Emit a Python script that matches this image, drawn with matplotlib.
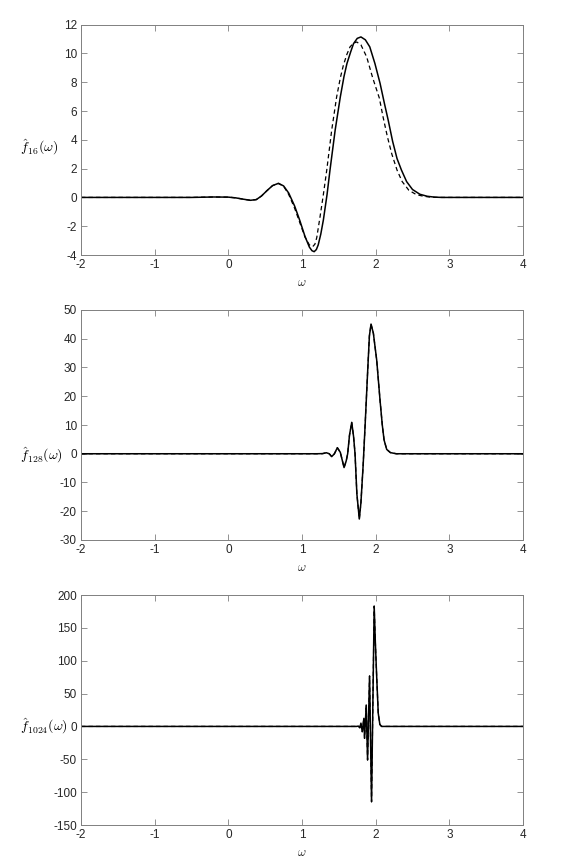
import matplotlib
matplotlib.use("Agg")
import matplotlib.pyplot as plt

plt.rcParams['axes.unicode_minus'] = False
plt.rcParams['mathtext.fontset'] = 'cm'
plt.rcParams['font.family'] = ['Liberation Sans', 'DejaVu Sans']

# ---------------- data ----------------
# Panel 1: f_16
w16_solid = [-2.0, -1.5, -1.0, -0.5, -0.2, 0.0, 0.1, 0.2, 0.3, 0.38, 0.45, 0.52, 0.6, 0.68,
             0.75, 0.82, 0.9, 0.97, 1.04, 1.1, 1.135, 1.165, 1.195, 1.22, 1.255, 1.29, 1.34,
             1.38, 1.45, 1.52, 1.57, 1.61, 1.66, 1.70, 1.75, 1.80, 1.86, 1.92, 1.99, 2.06,
             2.12, 2.17, 2.23, 2.29, 2.35, 2.42, 2.5, 2.6, 2.7, 2.8, 2.9, 3.0, 3.5, 4.0]
f16_solid = [0.0, 0.0, 0.0, 0.0, 0.03, 0.02, -0.03, -0.12, -0.2, -0.15, 0.1, 0.45, 0.82, 0.98,
             0.8, 0.3, -0.6, -1.6, -2.7, -3.45, -3.7, -3.77, -3.62, -3.3, -2.55, -1.57, 0.2,
             1.9, 4.67, 6.98, 8.4, 9.3, 10.1, 10.69, 11.05, 11.15, 10.95, 10.46, 9.3, 7.92,
             6.5, 5.37, 3.9, 2.7, 1.9, 1.1, 0.55, 0.22, 0.08, 0.02, 0.0, 0.0, 0.0, 0.0]

w16_dash = [-2.0, -1.5, -1.0, -0.5, -0.2, 0.0, 0.1, 0.2, 0.3, 0.38, 0.45, 0.52, 0.6, 0.68,
            0.75, 0.82, 0.9, 0.97, 1.04, 1.1, 1.145, 1.175, 1.2, 1.245, 1.29, 1.336, 1.403,
            1.47, 1.52, 1.562, 1.61, 1.652, 1.70, 1.743, 1.80, 1.878, 1.96, 2.05, 2.10,
            2.16, 2.22, 2.29, 2.36, 2.45, 2.55, 2.65, 2.75, 2.85, 3.0, 3.5, 4.0]
f16_dash = [0.0, 0.0, 0.0, 0.0, 0.03, 0.02, -0.03, -0.12, -0.2, -0.15, 0.1, 0.45, 0.82, 0.97,
            0.78, 0.2, -0.75, -1.75, -2.75, -3.3, -3.42, -3.25, -2.8, -1.34, 0.2, 1.9, 4.67,
            6.98, 8.3, 9.19, 9.95, 10.46, 10.72, 10.80, 10.6, 9.76, 8.3, 6.9, 5.6,
            4.2, 3.0, 1.9, 1.1, 0.5, 0.2, 0.08, 0.02, 0.0, 0.0, 0.0, 0.0]

# Panel 2: f_128
w128_solid = [-2.0, 1.2, 1.28, 1.33, 1.37, 1.403, 1.44, 1.48, 1.52, 1.571, 1.60, 1.62,
              1.645, 1.675, 1.70, 1.72, 1.745, 1.778, 1.80, 1.83, 1.857, 1.89, 1.915,
              1.937, 1.969, 1.99, 2.014, 2.059, 2.09, 2.114, 2.15, 2.2, 2.28, 4.0]
f128_solid = [0.0, 0.0, 0.05, 0.35, 0.0, -1.0, 0.0, 2.1, 0.5, -4.8, -2.5, 0.0,
              6.5, 10.9, 6.0, 0.0, -14.0, -22.7, -17.0, -4.0, 10.0, 28.0, 41.0,
              45.1, 41.9, 37.5, 32.6, 18.7, 10.0, 4.8, 1.5, 0.4, 0.0, 0.0]
w128_dash = list(w128_solid)
f128_dash = [0.0, 0.0, 0.05, 0.35, 0.0, -1.0, 0.0, 2.1, 0.5, -4.8, -2.5, 0.0,
             6.5, 10.9, 6.0, 0.0, -14.0, -22.7, -17.0, -4.0, 10.0, 28.0, 41.0,
             45.1, 41.9, 37.5, 32.6, 18.7, 10.0, 4.8, 1.5, 0.4, 0.0, 0.0]

# Panel 3: f_1024
w1024_solid = [-2.0, 1.74, 1.765, 1.785, 1.80, 1.818, 1.84, 1.849, 1.872, 1.890, 1.917,
               1.944, 1.980, 1.995, 2.012, 2.035, 2.057, 2.080, 4.0]
f1024_solid = [0.0, 0.0, 0.5, -2.0, 5.0, -8.0, 12.3, -18.0, 32.6, -51.0, 76.7,
               -114.6, 183.0, 130.0, 80.8, 20.0, 3.0, 0.0, 0.0]
w1024_dash = list(w1024_solid)
f1024_dash = [0.0, 0.0, 0.5, -2.0, 5.0, -8.0, 12.3, -18.0, 32.6, -51.0, 76.7,
              -114.6, 183.0, 130.0, 80.8, 20.0, 3.0, 0.0, 0.0]

xticks = [-2, -1, 0, 1, 2, 3, 4]
yticks16 = [-4, -2, 0, 2, 4, 6, 8, 10, 12]
yticks128 = [-30, -20, -10, 0, 10, 20, 30, 40, 50]
yticks1024 = [-150, -100, -50, 0, 50, 100, 150, 200]
ylabels = [r'$\hat{f}_{16}(\omega)$', r'$\hat{f}_{128}(\omega)$', r'$\hat{f}_{1024}(\omega)$']

# ---------------- figure ----------------
W, H = 581, 863
fig = plt.figure(figsize=(W / 100, H / 100), dpi=100)

panels = [
    (24.7, 255.0, w16_solid, f16_solid, w16_dash, f16_dash, yticks16, ylabels[0], 147.0),
    (310.0, 540.0, w128_solid, f128_solid, w128_dash, f128_dash, yticks128, ylabels[1], 455.0),
    (595.0, 825.0, w1024_solid, f1024_solid, w1024_dash, f1024_dash, yticks1024, ylabels[2], 726.5),
]
left_px, right_px = 81.0, 523.0
spine_col = '#808080'
text_col = '#262626'

for top, bot, ws, fs, wd, fd, yt, ylab, ylab_y in panels:
    ax = fig.add_axes([left_px / W, 1 - bot / H, (right_px - left_px) / W, (bot - top) / H])
    ax.plot(wd, fd, color='black', lw=0.9, ls=(0, (3.5, 2.5)))
    ax.plot(ws, fs, color='black', lw=1.1, solid_joinstyle='round')
    ax.set_xlim(-2, 4)
    ax.set_ylim(yt[0], yt[-1])
    ax.set_xticks(xticks)
    ax.set_xticklabels([str(t) for t in xticks])
    ax.set_yticks(yt)
    ax.set_yticklabels([str(t) for t in yt])
    for s in ax.spines.values():
        s.set_color(spine_col)
        s.set_linewidth(0.7)
    ax.tick_params(direction='in', length=4, width=0.6, color=spine_col,
                   labelsize=8.5, labelcolor=text_col, top=True, right=True, pad=3)
    ax.set_xlabel(r'$\omega$', fontsize=9, color=text_col, labelpad=4)
    fig.text(20.0 / W, 1 - ylab_y / H, ylab, fontsize=10, color='black',
             ha='left', va='center')

fig.savefig('out.png', dpi=100)
